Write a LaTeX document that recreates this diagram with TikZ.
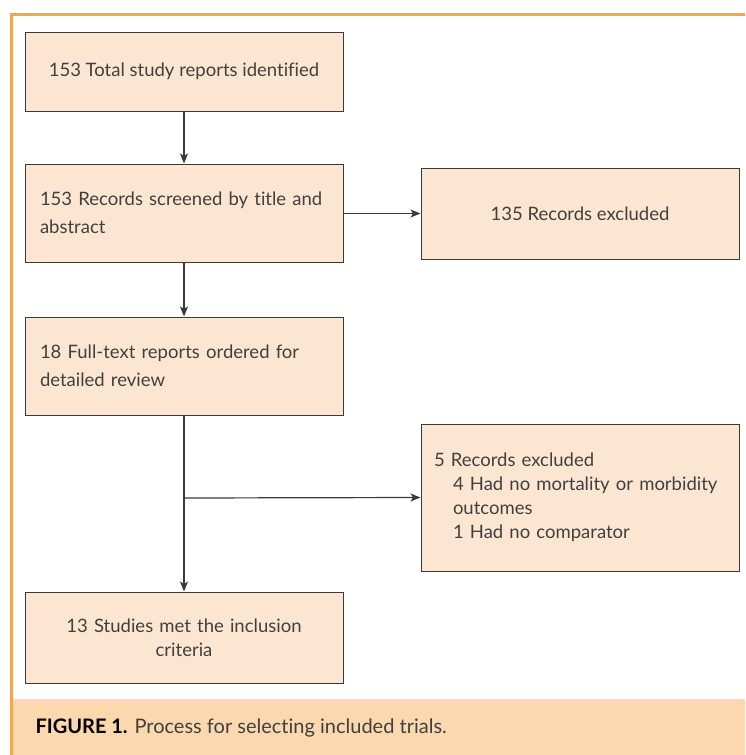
\documentclass[tikz,border=0pt]{standalone}
\usepackage{fontspec}
\setmainfont{Lato}[Ligatures=NoCommon]
\usepackage{xcolor}
\usetikzlibrary{arrows.meta, positioning, calc}

\definecolor{frameorange}{HTML}{F9A541}
\definecolor{capband}{HTML}{FCD8AE}
\definecolor{boxfill}{HTML}{FDE6D1}
\definecolor{boxline}{HTML}{3A3A3A}
\definecolor{txtgray}{HTML}{404040}

\tikzset{
    flowbox/.style={draw=boxline, fill=boxfill, line width=1pt, rectangle,
        minimum width=318pt, text=txtgray, inner sep=0pt},
    flowarrow/.style={-{Stealth[length=10pt, width=8pt, inset=2.5pt]}, draw=boxline, line width=1.2pt}
}

\begin{document}
\begin{tikzpicture}[x=1pt, y=-1pt, font=\fontsize{18.5}{24}\selectfont]
    \useasboundingbox (0,0) rectangle (745,755);
    % Frame and caption band
    \fill[capband] (12,699) rectangle (745,755);
    \draw[frameorange, line width=3pt] (745,14) -- (11,14) -- (11,755);
    \node[anchor=base west, text=black, font=\fontsize{20}{24}\selectfont] (caption) at (32,733)
        {\textbf{FIGURE 1.} {\color{txtgray}Process for selecting included trials.}};

    % Boxes
    \node[flowbox, minimum height=79pt] (total) at (184,71.5)
        {153 Total study reports identified};
    \node[flowbox, minimum height=98pt, text width=288pt, align=left,
        font=\fontsize{18.5}{28}\selectfont] (screened) at (184,213)
        {153 Records screened by title and\\abstract};
    \node[flowbox, minimum height=91pt] (excl1) at (580,213.5)
        {135 Records excluded};
    \node[flowbox, minimum height=98pt, text width=288pt, align=left,
        font=\fontsize{18.5}{28}\selectfont] (fulltext) at (184,366)
        {18 Full-text reports ordered for\\detailed review};
    \node[flowbox, minimum height=147pt, text width=292pt, align=left] (excl2) at (580,497.5)
        {5 Records excluded\\
         \hspace*{19pt}4 Had no mortality or morbidity\\
         \hspace*{19pt}outcomes\\
         \hspace*{19pt}1 Had no comparator};
    \node[flowbox, minimum height=91pt, text width=284pt, align=center] (included) at (184,637.5)
        {13 Studies met the inclusion\\criteria};

    % Connectors
    \coordinate (split) at (184,498);
    \draw[flowarrow] (total) -- (screened);
    \draw[flowarrow] (screened.east |- excl1.west) -- (excl1.west);
    \draw[flowarrow] (screened) -- (fulltext);
    \draw[flowarrow] (fulltext) -- (included);
    \draw[flowarrow] (split) -- (excl2.west);
\end{tikzpicture}
\end{document}
